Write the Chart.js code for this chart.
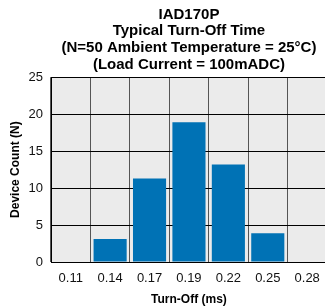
<!DOCTYPE html>
<html>
<head>
<meta charset="utf-8">
<script src="https://cdn.jsdelivr.net/npm/chart.js@4/dist/chart.umd.min.js"></script>
<style>
  html, body { margin: 0; padding: 0; background: #fff; overflow: hidden; }
  #wrap { width: 329px; height: 307px; }
</style>
</head>
<body>
<div id="wrap"><canvas id="chart" width="329" height="307"></canvas></div>
<script>
// turn-off time histogram, N=50
const categories = ["0.11", "0.14", "0.17", "0.19", "0.22", "0.25", "0.28"];
const deviceCounts = [0, 3.1, 11.3, 18.9, 13.2, 3.9, 0];
const yTicks = [0, 5, 10, 15, 20, 25];

const titleLines = [
  "IAD170P",
  "Typical Turn-Off Time",
  "(N=50 Ambient Temperature = 25\u00B0C)",
  "(Load Current = 100mADC)"
];

const fontFamily = "'Liberation Sans', Arial, Helvetica, sans-serif";

// grey plot background
const plotBackground = {
  id: "plotBackground",
  beforeDraw(chart) {
    const { ctx, chartArea } = chart;
    ctx.save();
    ctx.fillStyle = "#ebebeb";
    ctx.fillRect(chartArea.left, chartArea.top, chartArea.right - chartArea.left, chartArea.bottom - chartArea.top);
    ctx.restore();
  }
};

new Chart(document.getElementById("chart"), {
  type: "bar",
  data: {
    labels: categories,
    datasets: [{
      data: deviceCounts,
      backgroundColor: "#0072b5",
      borderWidth: 0,
      categoryPercentage: 0.84,
      barPercentage: 1
    }]
  },
  options: {
    responsive: false,
    animation: false,
    layout: { padding: { left: 0, right: 0, top: 0, bottom: 0 } },
    plugins: {
      legend: { display: false },
      tooltip: { enabled: false },
      title: {
        display: true,
        fullSize: false,
        text: titleLines,
        color: "#000",
        font: { family: fontFamily, size: 15, weight: "bold", lineHeight: 1.12 },
        padding: { top: 6, bottom: 4 }
      }
    },
    scales: {
      x: {
        afterFit(scale) { scale.height = 45; },
        grid: {
          offset: true,
          color: "#555",
          lineWidth: 1,
          drawTicks: false
        },
        border: { display: true, color: "#000", width: 1 },
        ticks: {
          color: "#111",
          padding: 9,
          font: { family: fontFamily, size: 13 }
        },
        title: {
          display: true,
          text: "Turn-Off (ms)",
          color: "#000",
          font: { family: fontFamily, size: 12, weight: "bold" },
          padding: { top: 0, bottom: 0 }
        }
      },
      y: {
        min: 0,
        max: 25,
        afterFit(scale) { scale.width = 51; },
        afterBuildTicks(scale) { scale.ticks = yTicks.map(v => ({ value: v })); },
        grid: {
          color: "#000",
          lineWidth: 1,
          drawTicks: false
        },
        border: { display: true, color: "#000", width: 1 },
        ticks: {
          color: "#111",
          padding: 8,
          font: { family: fontFamily, size: 13 }
        },
        title: {
          display: true,
          text: "Device Count (N)",
          color: "#000",
          font: { family: fontFamily, size: 12, weight: "bold" },
          padding: { top: 8, bottom: 0 }
        }
      }
    }
  },
  plugins: [plotBackground]
});
</script>
</body>
</html>
